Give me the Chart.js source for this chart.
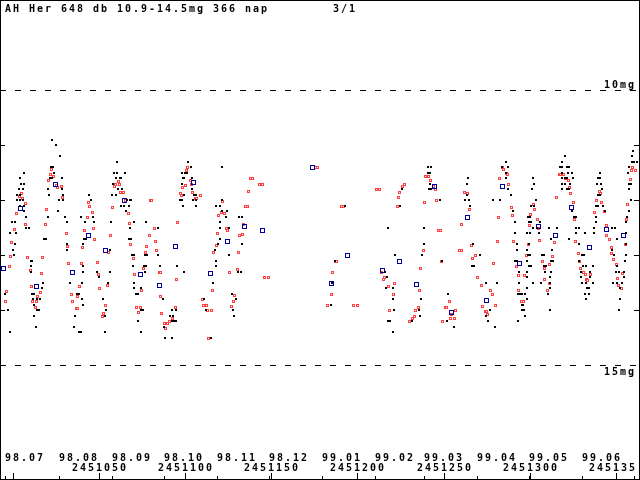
<!DOCTYPE html>
<html lang="hu">
<head>
    <meta charset="UTF-8">
    <meta name="viewport" content="width=device-width, initial-scale=1.0">
    <title>AH Her fénygörbe</title>
    <style>
        body {
            margin: 0;
            background: #fff;
        }
        .chart-container {
            width: 640px;
            height: 480px;
        }
    </style>
</head>
<body>
    <div class="chart-container">
        <canvas id="lc" width="640" height="480"></canvas>
    </div>

    <script src="https://cdn.jsdelivr.net/npm/chart.js@4.4.1/dist/chart.umd.min.js"></script>
    <script>
        // napok JD 2451000-tol, fényesség magnitudóban
        const JD0 = 2451000;
        const title = 'AH Her 648 db 10.9-14.5mg 366 nap        3/1';

        // vizuális becslések (fekete pontok)
        const visDay = [
            6.4,4.1,4.6,6.4,3.5,5.8,2.3,4.1,2.3,4.1,5.8,4.1,6.4,6.4,7.5,-0.6,1.2,7.5,9.3,1.7,-1.7,1.2,0,0.6,-4.6,-2.9,-1.7,
            22.6,25.0,27.3,22.1,23.2,23.8,22.6,21.5,28.5,20.3,28.5,20.9,29.0,26.7,29.0,26.1,20.3,30.2,31.4,18.0,
            19.2,10.5,11.0,10.5,10.5,17.4,16.8,11.0,12.2,11.6,13.9,15.7,12.2,13.9,15.1,12.2,13.4,
            44.1,45.3,39.5,46.5,41.8,47.0,41.2,42.4,31.4,40.6,31.4,40.6,40.6,33.1,40.1,37.2,38.3,40.1,40.6,36.0,35.4,38.3,39.5,
            60.4,58.7,60.4,65.0,59.8,62.1,62.7,58.1,61.0,63.3,57.5,59.8,66.2,67.9,68.5,62.7,64.5,67.4,65.6,56.9,
            70.3,67.9,67.4,68.5,56.3,69.1,70.3,48.8,56.3,49.9,55.2,52.3,54.0,53.4,53.4,69.7,70.3,70.3,71.4,72.6,
            74.3,74.3,75.5,72.6,74.3,77.2,84.2,76.7,77.8,76.1,77.2,76.7,84.2,
            101.6,103.4,98.1,99.9,101.0,98.7,99.3,103.9,98.1,103.9,99.3,105.1,106.3,97.0,98.1,104.5,106.3,98.7,106.3,121.4,
            121.4,117.9,120.2,121.4,124.3,123.7,131.2,133.0,120.2,120.2,125.4,120.2,119.0,133.0,117.3,125.4,117.9,117.9,95.2,85.4,
            99.3,130.7,132.4,116.1,127.2,129.5,87.1,110.9,92.3,94.7,127.8,112.1,91.2,92.9,128.3,92.3,93.5,94.7,87.7,88.3,
            92.3,115.0,
            241.0,242.7,241.0,242.2,242.2,241.6,242.7,225.9,264.2,263.6,263.6,262.5,264.8,265.4,248.0,224.7,192.8,217.8,238.7,238.7,
            267.1,221.8,237.5,266.5,267.7,249.1,187.0,217.2,216.0,220.7,216.6,185.2,252.6,220.7,236.9,184.7,221.2,235.8,236.3,217.8,
            218.9,231.7,252.0,256.1,220.7,
            286.3,284.0,287.4,286.3,286.3,287.4,289.2,278.7,282.8,290.3,291.5,291.5,292.7,292.7,271.2,291.5,292.7,293.8,274.7,281.1,
            293.8,298.5,293.3,294.4,295.6,298.5,295.6,295.6,296.7,277.0,274.7,297.3,275.8,293.3,279.9,302.0,302.5,301.4,303.7,300.8,
            302.5,299.1,300.2,299.6,300.8,306.0,302.0,304.3,298.5,300.2,305.4,299.6,298.5,299.1,300.2,298.5,299.6,300.8,298.5,298.5,
            302.0,297.3,296.2,311.3,315.9,312.4,307.2,308.4,313.0,312.4,313.6,308.4,309.5,308.9,312.4,311.8,306.6,311.8,311.8,310.7,
            311.8,
            320.5,318.8,317.6,318.8,321.7,322.9,318.8,322.3,324.6,318.8,320.5,321.7,325.2,318.8,320.5,323.4,318.8,321.7,322.9,324.6,
            325.8,326.9,326.9,328.6,322.9,326.9,332.2,328.6,330.4,331.6,328.6,331.0,332.7,336.8,329.8,335.1,329.8,335.1,330.4,332.7,
            336.8,333.3,334.5,332.2,334.5,332.7,
            340.9,339.7,340.9,339.1,341.5,342.0,339.7,340.9,338.5,339.7,342.6,343.8,338.5,338.5,337.4,347.8,349.6,337.4,350.7,347.8,
            349.0,350.7,350.2,351.9,348.4,350.7,352.5,352.5,351.9,360.0,359.4,359.4,360.6,362.4,357.7,357.1,357.7,358.9,357.7,358.9,
            357.7,356.5,356.0,356.0,356.0,356.0,355.4,354.8,354.8,353.7
        ];
        const visMag = [
            11.5,11.6,11.7,11.7,11.8,11.8,11.9,11.9,12.0,12.0,12.0,12.1,12.1,12.2,12.3,12.4,12.4,12.5,12.5,12.6,12.6,12.8,12.9,13.0,13.7,14.0,14.4,
            10.9,11.0,11.2,11.4,11.4,11.5,11.6,11.6,11.6,11.8,11.8,11.9,11.9,12.0,12.0,12.2,12.3,12.3,12.4,12.7,
            12.7,13.1,13.1,13.2,13.3,13.5,13.6,13.7,13.7,13.8,13.8,13.8,13.9,14.0,14.0,14.1,14.3,
            11.9,12.0,12.3,12.3,12.4,12.4,12.7,12.7,12.8,12.8,12.9,13.2,13.3,13.5,13.5,13.7,13.7,13.8,13.9,14.1,14.3,14.4,14.4,
            11.3,11.5,11.5,11.5,11.6,11.6,11.6,11.7,11.8,11.8,11.9,11.9,12.0,12.0,12.0,12.1,12.1,12.1,12.2,12.4,
            12.4,12.5,12.7,12.7,12.9,13.0,13.0,13.3,13.3,13.4,13.5,13.8,14.0,14.1,14.4,13.2,13.5,13.6,13.7,13.7,
            13.6,14.0,14.0,14.2,14.4,12.4,12.5,13.0,13.0,13.2,13.2,13.3,13.0,
            11.3,11.4,11.5,11.5,11.5,11.6,11.6,11.6,11.7,11.8,11.9,11.9,11.9,12.0,12.0,12.0,12.0,12.1,12.1,11.4,
            12.0,12.1,12.1,12.2,12.2,12.3,12.3,12.3,12.4,12.5,12.5,12.7,12.8,12.8,12.9,13.0,13.1,13.2,13.2,13.2,
            13.3,13.3,13.3,13.5,13.7,13.8,13.8,13.8,14.0,14.0,14.0,14.0,14.1,14.1,14.1,14.2,14.2,14.2,14.3,14.5,
            14.5,14.5,
            11.4,11.4,11.5,11.5,11.7,11.8,11.8,11.8,11.6,11.7,11.9,12.0,12.0,12.1,12.0,12.1,12.1,12.5,12.5,12.8,
            12.8,13.0,13.0,13.2,13.2,13.1,13.1,13.4,13.3,13.6,13.6,13.5,13.7,13.8,13.8,13.9,14.0,14.0,14.1,14.2,
            14.2,14.2,14.2,14.3,14.4,
            11.3,11.4,11.4,11.5,11.6,11.8,11.9,12.0,12.0,12.2,12.4,12.6,12.8,12.9,13.0,13.1,13.1,13.3,13.5,13.5,
            13.5,13.6,13.7,13.7,13.7,13.8,13.9,14.0,14.0,14.0,14.1,14.1,14.2,14.2,14.3,11.6,11.7,11.8,12.0,12.1,
            12.1,12.3,12.3,12.4,12.4,12.4,12.5,12.5,12.6,12.6,12.6,12.8,12.9,13.0,13.0,13.1,13.2,13.2,13.3,13.4,
            13.5,13.7,13.9,12.5,12.5,12.7,13.0,13.0,12.9,13.1,13.1,13.2,13.2,13.3,13.3,13.4,13.5,13.5,13.6,13.7,
            14.0,
            11.2,11.3,11.4,11.4,11.4,11.4,11.5,11.5,11.5,11.6,11.6,11.6,11.6,11.7,11.7,11.7,11.8,11.8,11.8,12.2,
            12.3,12.3,12.5,12.5,12.7,12.6,12.6,12.8,13.0,13.0,13.1,13.2,13.2,13.2,13.3,13.3,13.4,13.4,13.5,13.5,
            13.5,13.6,13.6,13.7,13.7,13.8,
            11.5,11.6,11.6,11.7,11.7,11.8,11.9,11.9,12.1,12.1,12.1,12.2,12.3,12.4,12.5,12.5,12.5,12.6,12.7,12.9,
            13.0,13.2,13.3,13.3,13.5,13.5,13.6,13.8,14.0,11.1,11.2,11.3,11.3,11.3,11.4,11.5,11.7,11.7,11.8,12.0,
            12.2,12.3,12.4,12.6,12.8,13.0,13.1,13.3,13.4,13.5
        ];

        // piros négyzetek
        const redDay = [
            3.5,5.2,5.8,7.0,2.3,7.5,0.6,-0.6,-1.2,-2.3,-3.5,-4.1,
            22.6,21.5,23.8,20.9,25.0,26.1,27.9,28.5,19.7,18.6,17.4,16.8,8.7,9.9,10.5,15.7,14.5,11.6,13.9,12.8,
            43.6,44.7,45.9,43.0,46.5,41.8,30.8,47.6,40.6,31.9,39.5,32.5,38.9,37.7,33.7,34.8,36.6,37.2,
            58.7,59.8,61.6,61.0,62.7,63.9,57.5,65.6,66.8,67.9,56.9,68.5,55.7,48.8,49.9,54.6,50.5,54.0,51.7,52.8,
            70.8,69.7,72.0,73.8,72.6,74.9,75.5,76.7,77.8,79.0,81.9,83.0,83.6,84.8,79.6,80.7,
            101.6,101.0,102.8,103.9,99.9,98.7,104.5,97.0,97.6,108.6,105.7,106.8,121.9,120.8,123.1,119.6,123.7,124.8,119.0,117.9,
            116.7,95.8,138.2,138.8,142.9,144.6,137.0,135.3,135.9,133.6,133.0,131.8,130.7,130.1,126.0,145.8,148.1,85.4,94.7,115.6,
            128.9,127.8,126.6,109.8,110.9,112.1,112.7,115.0,94.1,86.5,92.9,90.6,90.0,87.7,88.8,113.8,85.9,175.4,177.1,
            210.8,213.1,227.1,225.9,224.7,224.1,223.0,191.0,192.2,239.8,241.0,242.7,243.9,245.1,246.2,239.2,261.9,264.2,264.8,260.7,
            246.8,248.0,266.0,268.3,267.1,259.0,260.2,270.0,238.1,249.1,236.9,213.7,216.0,214.9,221.8,217.8,218.3,220.7,235.8,187.0,
            188.1,185.8,184.7,182.9,198.0,199.8,218.9,234.0,235.2,232.9,231.7,230.0,253.2,250.9,252.0,257.2,253.8,256.1,249.7,254.9,
            284.0,285.1,286.3,286.9,282.8,288.0,289.2,289.8,282.2,281.1,290.9,279.3,277.0,278.2,279.9,272.9,274.1,275.2,275.8,271.8,
            302.0,303.1,300.8,304.3,300.2,304.9,299.1,306.0,297.9,292.1,297.3,293.3,293.8,295.0,296.2,
            307.2,308.4,311.8,313.0,308.9,311.3,310.1,314.2,315.9,
            317.1,318.2,319.4,321.1,322.3,322.9,324.0,325.2,326.3,326.9,328.1,329.2,329.8,331.0,332.2,333.3,333.9,335.1,
            340.3,340.9,342.0,339.1,343.2,337.9,344.4,344.9,346.1,347.3,347.8,349.0,350.2,354.2,351.3,351.9,353.1,
            360.0,358.9,361.2,358.3,357.1,356.0,355.4
        ];
        const redMag = [
            11.93,11.89,11.98,12.07,12.24,12.45,12.53,12.78,13.02,13.20,13.67,13.85,
            11.44,11.53,11.58,11.65,11.73,11.78,11.76,11.96,12.18,12.44,13.04,13.33,13.04,13.29,13.58,13.69,13.76,13.84,13.85,13.96,
            12.05,12.11,12.22,12.31,12.51,12.56,12.60,12.71,12.87,12.85,13.15,13.16,13.58,13.75,13.71,13.85,13.98,13.98,
            11.75,11.71,11.71,11.67,11.87,11.87,12.13,12.00,12.25,12.42,12.64,12.80,12.95,13.13,13.35,13.55,13.60,13.91,14.11,14.07,
            13.35,13.07,13.96,13.95,14.04,13.65,13.25,12.96,12.84,12.65,12.51,12.75,12.91,13.31,12.00,12.00,
            11.40,11.47,11.64,11.71,11.73,11.78,11.87,11.89,11.91,11.91,11.98,11.98,12.02,12.22,12.24,12.29,12.51,12.56,12.60,12.82,
            12.96,12.40,11.60,11.60,11.71,11.71,11.85,12.11,12.11,12.45,12.62,12.65,12.96,13.27,13.31,13.40,13.40,13.31,13.45,13.64,
            13.73,13.85,13.93,13.80,13.91,13.91,14.00,14.00,13.95,14.07,14.16,14.20,14.24,14.24,14.33,14.51,13.75,11.40,11.40,
            11.80,11.80,11.71,11.75,11.87,11.95,12.11,12.11,12.11,11.58,11.58,11.64,11.75,11.80,12.00,12.05,11.87,11.89,12.18,12.45,
            12.55,12.55,12.82,13.00,13.07,12.91,12.91,13.40,12.91,13.11,13.25,13.31,13.40,13.45,13.51,13.58,13.58,13.71,13.64,13.11,
            13.11,13.31,13.71,13.91,13.91,13.91,14.00,14.00,13.96,14.11,14.15,14.20,13.85,13.95,13.95,14.00,14.15,14.15,14.20,14.09,
            11.40,11.44,11.51,11.53,11.60,11.71,12.13,12.29,12.31,12.75,12.75,13.15,13.64,13.71,13.91,13.93,14.02,14.02,14.09,13.56,
            12.09,12.18,12.27,12.35,12.47,12.51,12.80,12.73,13.00,13.20,13.38,13.38,13.65,13.85,13.84,
            13.11,13.25,13.18,13.02,13.44,13.51,13.65,12.78,11.95,
            11.53,11.53,11.53,11.60,11.64,11.78,11.89,12.05,12.36,12.76,12.98,13.11,13.24,13.31,13.35,13.44,13.47,13.36,
            11.84,11.89,12.04,12.00,12.20,12.22,12.47,12.64,12.71,12.87,12.98,13.09,13.18,13.33,13.42,13.56,13.60,
            11.40,11.47,11.47,11.62,12.09,12.36,12.80
        ];

        // kék négyzetek
        const blueDay = [
            -5.8,4.6,13.9,24.4,34.3,44.1,54.0,64.5,74.3,84.8,105.1,94.1,124.3,114.4,134.7,144.6,174.2,
            244.5,264.2,194.5,224.7,214.3,184.7,234.6,254.9,284.5,274.7,294.4,304.9,315.3,324.6,334.5,344.4,354.8
        ];
        const blueMag = [
            13.25,12.16,13.58,11.71,13.31,12.64,12.91,12.00,13.36,13.56,11.69,12.85,12.75,13.33,12.49,12.55,11.40,
            11.75,12.31,13.00,13.11,13.29,13.51,13.53,14.04,11.75,13.82,13.16,12.49,12.65,12.13,12.87,12.53,12.65
        ];

        // tengelyek
        const monthJD = [2450995.5, 2451026.5, 2451057.5, 2451087.5, 2451118.5, 2451148.5, 2451179.5,
                         2451210.5, 2451238.5, 2451269.5, 2451299.5, 2451330.5, 2451360.5];
        const monthLabels = ['98.07', '98.08', '98.09', '98.10', '98.11', '98.12', '99.01',
                             '99.02', '99.03', '99.04', '99.05', '99.06', ''];
        const jdTicks = [2451000, 2451050, 2451100, 2451150, 2451200, 2451250, 2451300, 2451350];
        const magTicks = [11, 12, 13, 14];
        const magLines = [10, 15];

        const toPoints = (days, mags) => days.map((d, i) => ({ x: JD0 + d, y: mags[i] }));

        // kis pixeles jelek, hogy élesek maradjanak
        function marker(size, edge, inner) {
            const c = document.createElement('canvas');
            c.width = size;
            c.height = size;
            const g = c.getContext('2d');
            g.fillStyle = edge;
            g.fillRect(0, 0, size, size);
            if (size > 2) {
                if (inner) {
                    g.fillStyle = inner;
                    g.fillRect(1, 1, size - 2, size - 2);
                } else {
                    g.clearRect(1, 1, size - 2, size - 2);
                }
            }
            return c;
        }
        const dotBlack = marker(2, '#000');
        const boxRed = marker(3, '#ff4040', '#fff');
        const boxBlue = marker(5, '#0000a0', null);

        const FONT = 'bold 10px "DejaVu Sans Mono", "Liberation Mono", monospace';
        const ADV = 8;

        // karakterenként, fix lépéssel írunk (mint a régi bitmap font)
        function mono(ctx, s, x, y, maxX) {
            for (let i = 0; i < s.length; i++) {
                const cx = x + i * ADV;
                if (maxX !== undefined && cx + 6 > maxX) break;
                ctx.fillText(s[i], cx, y);
            }
        }

        const frame = {
            id: 'frame',
            beforeDatasetsDraw(chart) {
                const { ctx, scales: { y } } = chart;
                ctx.save();
                ctx.strokeStyle = '#000';
                ctx.lineWidth = 1;
                ctx.setLineDash([6, 9]);
                magLines.forEach(m => {
                    const py = Math.round(y.getPixelForValue(m)) + 0.5;
                    ctx.beginPath();
                    ctx.moveTo(0, py);
                    ctx.lineTo(chart.width, py);
                    ctx.stroke();
                });
                ctx.restore();
                ctx.imageSmoothingEnabled = false;
            },
            afterDatasetsDraw(chart) {
                chart.ctx.imageSmoothingEnabled = true;
            },
            afterDraw(chart) {
                const { ctx, scales: { x, y } } = chart;
                const W = chart.width, H = chart.height;
                ctx.save();
                ctx.strokeStyle = '#000';
                ctx.lineWidth = 1;
                ctx.strokeRect(0.5, 0.5, W - 1, H - 1);

                ctx.beginPath();
                magTicks.forEach(m => {
                    const py = Math.round(y.getPixelForValue(m)) + 0.5;
                    ctx.moveTo(0, py); ctx.lineTo(5, py);
                    ctx.moveTo(W - 6, py); ctx.lineTo(W, py);
                });
                monthJD.forEach(jd => {
                    const px = Math.round(x.getPixelForValue(jd)) + 0.5;
                    ctx.moveTo(px, H - 4); ctx.lineTo(px, H);
                });
                jdTicks.forEach(jd => {
                    const px = Math.round(x.getPixelForValue(jd)) + 0.5;
                    ctx.moveTo(px, H - 7); ctx.lineTo(px, H);
                });
                ctx.stroke();

                ctx.fillStyle = '#000';
                ctx.font = FONT;
                ctx.textAlign = 'left';
                ctx.textBaseline = 'alphabetic';

                mono(ctx, title, 5, 12);
                mono(ctx, '10mg', W - 36, Math.round(y.getPixelForValue(10)) - 2);
                mono(ctx, '15mg', W - 36, Math.round(y.getPixelForValue(15)) + 10);

                monthJD.forEach((jd, i) => {
                    if (!monthLabels[i]) return;
                    mono(ctx, monthLabels[i], Math.round(x.getPixelForValue(jd)), H - 19);
                });
                jdTicks.forEach(jd => {
                    const s = String(jd);
                    const left = Math.round(x.getPixelForValue(jd)) - (s.length * ADV - 2) / 2;
                    if (left < 0) return;
                    mono(ctx, s, left, H - 9, W - 1);
                });
                ctx.restore();
            }
        };

        document.addEventListener('DOMContentLoaded', function() {
            const ctx = document.getElementById('lc');

            const data = {
                datasets: [
                    {
                        label: 'vizuális',
                        data: toPoints(visDay, visMag),
                        pointStyle: dotBlack,
                        pointRadius: 2,
                        showLine: false,
                        order: 0
                    },
                    {
                        label: 'kék',
                        data: toPoints(blueDay, blueMag),
                        pointStyle: boxBlue,
                        pointRadius: 3,
                        showLine: false,
                        order: 1
                    },
                    {
                        label: 'piros',
                        data: toPoints(redDay, redMag),
                        pointStyle: boxRed,
                        pointRadius: 2,
                        showLine: false,
                        order: 2
                    }
                ]
            };

            const config = {
                type: 'scatter',
                data: data,
                options: {
                    responsive: false,
                    devicePixelRatio: 1,
                    animation: false,
                    events: [],
                    layout: { padding: 0, autoPadding: false },
                    plugins: {
                        legend: { display: false },
                        tooltip: { enabled: false }
                    },
                    scales: {
                        x: { type: 'linear', display: false, min: JD0 - 7.55, max: JD0 + 364.1 },
                        y: { type: 'linear', display: false, reverse: true, min: 8.3636, max: 17.0909 }
                    }
                },
                plugins: [frame]
            };

            new Chart(ctx, config);
        });
    </script>
</body>
</html>
